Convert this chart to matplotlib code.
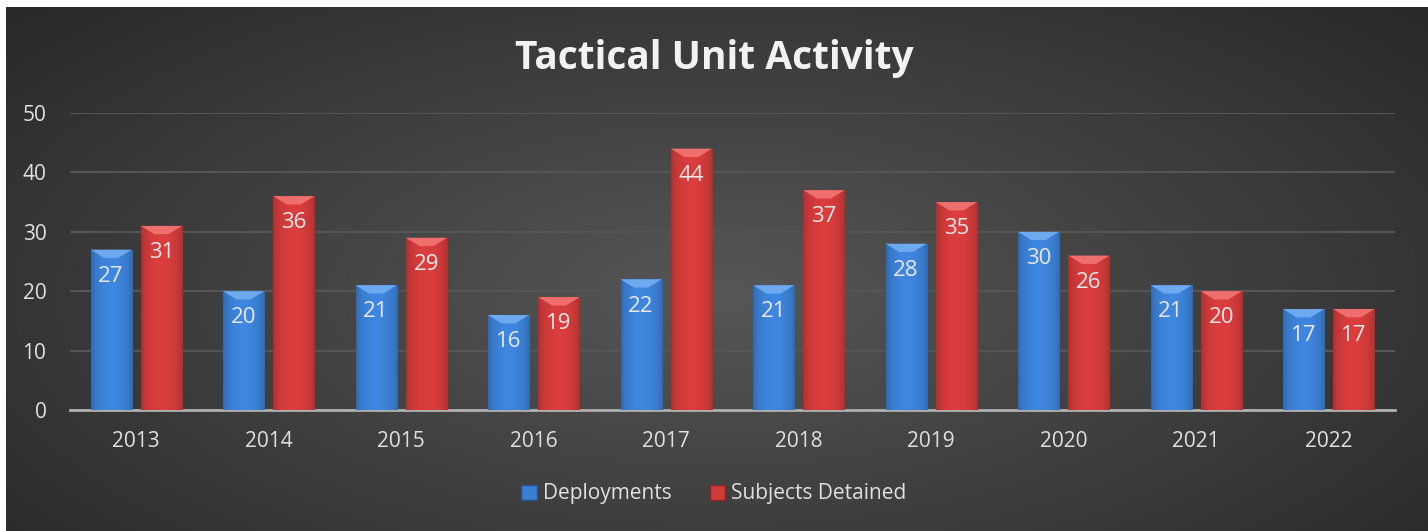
import numpy as np
import matplotlib
matplotlib.use("Agg")
import matplotlib.pyplot as plt
from matplotlib.patches import Polygon, Patch
from matplotlib.colors import to_rgb

years = ["2013", "2014", "2015", "2016", "2017", "2018", "2019", "2020", "2021", "2022"]
deployments = [27, 20, 21, 16, 22, 21, 28, 30, 21, 17]
detained = [31, 36, 29, 19, 44, 37, 35, 26, 20, 17]
yticks = [0, 10, 20, 30, 40, 50]

W, H = 1428, 531
fig = plt.figure(figsize=(W / 100, H / 100), dpi=100)
fig.patch.set_facecolor("white")

# background panel with radial gradient
bg = fig.add_axes([6 / W, 0, 1 - 6 / W, 1 - 7 / H])
bg.set_axis_off()
yy, xx = np.mgrid[0:1:300j, 0:1:800j]
r = np.sqrt(((xx - 0.5) / 0.75) ** 2 + ((yy - 0.45) / 0.9) ** 2)
r = np.clip(r, 0, 1)
c0 = np.array([0.34, 0.34, 0.34])
c1 = np.array([0.14, 0.14, 0.14])
img = c0[None, None, :] * (1 - r[..., None]) + c1[None, None, :] * r[..., None]
bg.imshow(img, aspect="auto", extent=[0, 1, 0, 1], origin="lower")
bg.set_xlim(0, 1)
bg.set_ylim(0, 1)

ax = fig.add_axes([70 / W, (H - 410) / H, (1395 - 70) / W, (410 - 113) / H])
ax.patch.set_alpha(0)
x = np.arange(len(years))
w = 0.31
off = 0.19
blue = "#3b7fd3"
red = "#cf3a3a"

b1 = ax.bar(x - off, deployments, w, color=blue, edgecolor="#24528c", linewidth=0.8, zorder=3)
b2 = ax.bar(x + off, detained, w, color=red, edgecolor="#8a2424", linewidth=0.8, zorder=3)

ax.set_xlim(-0.5, len(years) - 0.5)
ax.set_ylim(0, 50)


def shade(bars, base, light):
    cb = np.array(to_rgb(base))
    t = np.linspace(0, 1, 64)
    prof = 0.82 + 0.24 * np.sin(np.pi * t) ** 0.6
    grad = np.clip(cb[None, :] * prof[:, None], 0, 1)[None, :, :]
    for b in bars:
        x0 = b.get_x()
        x1 = x0 + b.get_width()
        top = b.get_height()
        im = ax.imshow(grad, extent=[x0, x1, 0, top], aspect="auto", zorder=3.5,
                       interpolation="bilinear")
        im.set_clip_path(b)
        d = 1.4
        dx = b.get_width() * 0.33
        ax.add_patch(Polygon([[x0, top], [x1, top], [x1 - dx, top - d], [x0 + dx, top - d]],
                             closed=True, facecolor=light, edgecolor="none", zorder=4))
    ax.set_xlim(-0.5, len(years) - 0.5)
    ax.set_ylim(0, 50)


shade(b1, blue, "#6ea8ef")
shade(b2, red, "#ef6f6f")

for bars, vals in ((b1, deployments), (b2, detained)):
    for b, v in zip(bars, vals):
        ax.text(b.get_x() + b.get_width() / 2, v - 4.5, str(v), ha="center", va="center",
                color="#e8e8e8", fontsize=16, family="Open Sans", zorder=5)

ax.set_yticks(yticks)
ax.set_xticks(x)
ax.set_xticklabels(years)
ax.tick_params(axis="both", length=0, colors="#e0e0e0", labelsize=15)
ax.tick_params(axis="x", pad=15)
ax.tick_params(axis="y", pad=17)
for lbl in ax.get_xticklabels() + ax.get_yticklabels():
    lbl.set_family("Open Sans")
ax.grid(axis="y", color="#555555", linewidth=1.5, zorder=0)
for s in ["top", "right", "left"]:
    ax.spines[s].set_visible(False)
ax.spines["bottom"].set_color("#b0b0b0")
ax.spines["bottom"].set_linewidth(2)

fig.text(0.5, 1 - 58 / H, "Tactical Unit Activity", ha="center", va="center",
         color="#f2f2f2", fontsize=28, fontweight="bold", family="Open Sans")

handles = [Patch(facecolor=blue, edgecolor="#24528c"), Patch(facecolor=red, edgecolor="#8a2424")]
leg = fig.legend(handles, ["Deployments", "Subjects Detained"], loc="center",
                 bbox_to_anchor=(0.5, 1 - 494 / H), ncol=2, frameon=False,
                 handlelength=0.75, handleheight=0.75, handletextpad=0.3, columnspacing=1.8,
                 prop={"family": "Open Sans", "size": 15})
for t in leg.get_texts():
    t.set_color("#e0e0e0")

fig.savefig("out.png", dpi=100, facecolor="white")
